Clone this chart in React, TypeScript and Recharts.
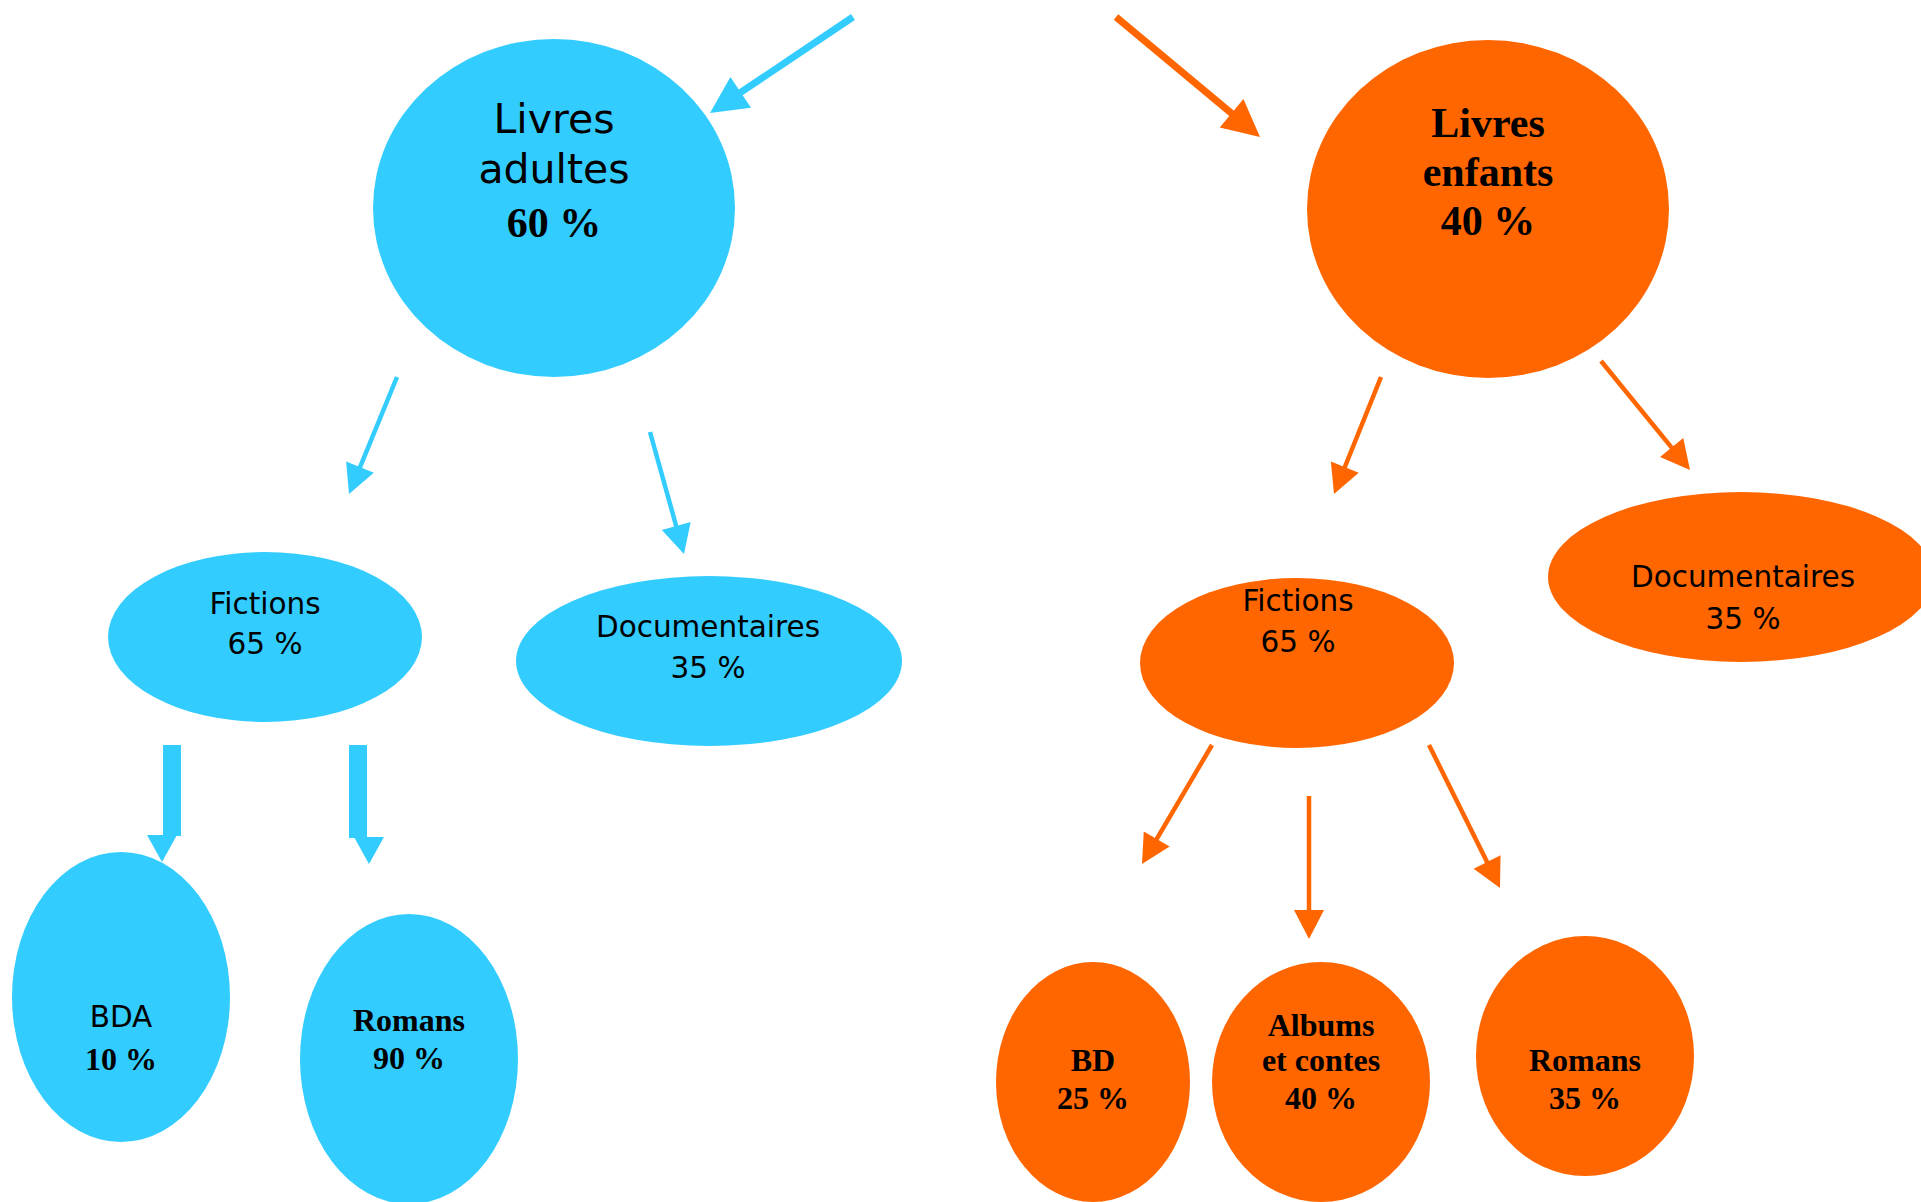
import React from 'react';
import { ScatterChart, Scatter, XAxis, YAxis, ReferenceLine } from 'recharts';

const BLUE = '#33CCFF';
const ORANGE = '#FF6600';
const W = 1921;
const H = 1202;

// ---- nodes (ellipses) ----
const nodeIds = ['adultes', 'enfants', 'fictionsA', 'docsA', 'bda', 'romansA', 'fictionsE', 'docsE', 'bd', 'albums', 'romansE'];
const nodeX = [554, 1488, 265, 709, 121, 409, 1297, 1741, 1093, 1321, 1585];
const nodeY = [208, 209, 637, 661, 997, 1059, 663, 577, 1082, 1082, 1056];
const nodeRx = [181, 181, 157, 193, 109, 109, 157, 193, 97, 109, 109];
const nodeRy = [169, 169, 85, 85, 145, 145, 85, 85, 120, 120, 120];
const nodeGroup = ['A', 'E', 'A', 'A', 'A', 'A', 'E', 'E', 'E', 'E', 'E'];

// ---- labels (one entry per text line) ----
const labelText = ['Livres', 'adultes', '60 %', 'Livres', 'enfants', '40 %', 'Fictions', '65 %', 'Documentaires', '35 %', 'BDA', '10 %', 'Romans', '90 %', 'Fictions', '65 %', 'Documentaires', '35 %', 'BD', '25 %', 'Albums', 'et contes', '40 %', 'Romans', '35 %'];
const labelX = [554, 554, 554, 1488, 1488, 1488, 265, 265, 708, 708, 121, 121, 409, 409, 1298, 1298, 1743, 1743, 1093, 1093, 1321, 1321, 1321, 1585, 1585];
const labelY = [133, 183, 237, 137, 186, 235, 614, 654, 637, 678, 1027, 1070, 1031, 1069, 611, 652, 587, 629, 1071, 1109, 1036, 1071, 1109, 1071, 1109];
const labelFont = ['sansL', 'sansL', 'serifL', 'serifL', 'serifL', 'serifL', 'sans', 'sans', 'sans', 'sans', 'sans', 'serif', 'serif', 'serif', 'sans', 'sans', 'sans', 'sans', 'serif', 'serif', 'serif', 'serif', 'serif', 'serif', 'serif'];

// ---- arrows (start -> tip) ----
const arrowX1 = [853, 1116, 397, 650, 1381, 1601, 172, 358, 1212, 1309, 1429];
const arrowY1 = [17, 17, 377, 432, 377, 361, 745, 745, 745, 796, 745];
const arrowX2 = [710, 1260, 349, 684, 1334, 1690, 162, 369, 1142, 1309, 1500];
const arrowY2 = [113, 137, 494, 554, 494, 470, 862, 864, 864, 939, 888];
const arrowKind = ['top', 'top', 'thin', 'thin', 'thin', 'thin', 'bar', 'bar', 'thin', 'thin', 'thin'];
const arrowGroup = ['A', 'E', 'A', 'A', 'E', 'E', 'A', 'A', 'E', 'E', 'E'];

const groupColor: Record<string, string> = { A: BLUE, E: ORANGE };
const fontSpec: Record<string, { family: string; size: number; weight: string }> = {
  sansL: { family: '"DejaVu Sans", sans-serif', size: 41, weight: 'normal' },
  serifL: { family: '"Liberation Serif", "Times New Roman", serif', size: 42, weight: 'bold' },
  sans: { family: '"DejaVu Sans", sans-serif', size: 29.5, weight: 'normal' },
  serif: { family: '"Liberation Serif", "Times New Roman", serif', size: 32, weight: 'bold' },
};
const arrowSpec: Record<string, { width: number; len: number; half: number }> = {
  top: { width: 7, len: 37, half: 18.5 },
  thin: { width: 4.5, len: 29, half: 15 },
  bar: { width: 18, len: 27, half: 15 },
};

const nodes = nodeIds.map((id, i) => ({ id, x: nodeX[i], y: nodeY[i], rx: nodeRx[i], ry: nodeRy[i], group: nodeGroup[i] }));
const labels = labelText.map((text, i) => ({ text, x: labelX[i], y: labelY[i], font: labelFont[i] }));
const arrows = arrowX1.map((x1, i) => ({ x1, y1: arrowY1[i], x2: arrowX2[i], y2: arrowY2[i], kind: arrowKind[i], group: arrowGroup[i] }));

const EllipseShape = (props: any) => {
  const { cx, cy, payload } = props;
  if (cx == null || cy == null) return <g />;
  return <ellipse cx={cx} cy={cy} rx={payload.rx} ry={payload.ry} fill={groupColor[payload.group]} />;
};

const LabelShape = (props: any) => {
  const { cx, cy, payload } = props;
  if (cx == null || cy == null) return <g />;
  const f = fontSpec[payload.font];
  return (
    <text x={cx} y={cy} textAnchor="middle" fontFamily={f.family} fontSize={f.size} fontWeight={f.weight} fill="#000">
      {payload.text}
    </text>
  );
};

const makeArrow = (kind: string, color: string) => (p: any) => {
  const { x1, y1, x2, y2 } = p;
  const s = arrowSpec[kind];
  if (kind === 'bar') {
    // vertical shaft, head hung under it with its tip at (x2, y2)
    const by = y2 - s.len;
    const pts = `${x2},${y2} ${x2 - s.half},${by} ${x2 + s.half},${by}`;
    return (
      <g>
        <line x1={x1} y1={y1} x2={x1} y2={by + 1} stroke={color} strokeWidth={s.width} strokeLinecap="butt" />
        <polygon points={pts} fill={color} />
      </g>
    );
  }
  const dx = x2 - x1;
  const dy = y2 - y1;
  const d = Math.sqrt(dx * dx + dy * dy) || 1;
  const ux = dx / d;
  const uy = dy / d;
  const px = -uy;
  const py = ux;
  const bx = x2 - ux * s.len;
  const by = y2 - uy * s.len;
  const pts = `${x2},${y2} ${bx + px * s.half},${by + py * s.half} ${bx - px * s.half},${by - py * s.half}`;
  return (
    <g>
      <line x1={x1} y1={y1} x2={bx + ux} y2={by + uy} stroke={color} strokeWidth={s.width} strokeLinecap="butt" />
      <polygon points={pts} fill={color} />
    </g>
  );
};

export default function App() {
  return (
    <div style={{ position: 'absolute', left: 0, top: 0, width: W, height: H, background: '#fff' }}>
      <ScatterChart width={W} height={H} margin={{ top: 0, right: 0, bottom: 0, left: 0 }}>
        <XAxis type="number" dataKey="x" domain={[0, W]} hide allowDataOverflow />
        <YAxis type="number" dataKey="y" domain={[0, H]} reversed hide allowDataOverflow width={0} />
        <Scatter data={nodes} shape={EllipseShape} isAnimationActive={false} />
        {arrows.map((a, i) => (
          <ReferenceLine
            key={`arrow-${i}`}
            segment={[{ x: a.x1, y: a.y1 }, { x: a.x2, y: a.y2 }]}
            ifOverflow="visible"
            shape={makeArrow(a.kind, groupColor[a.group])}
          />
        ))}
        <Scatter data={labels} shape={LabelShape} isAnimationActive={false} />
      </ScatterChart>
    </div>
  );
}
